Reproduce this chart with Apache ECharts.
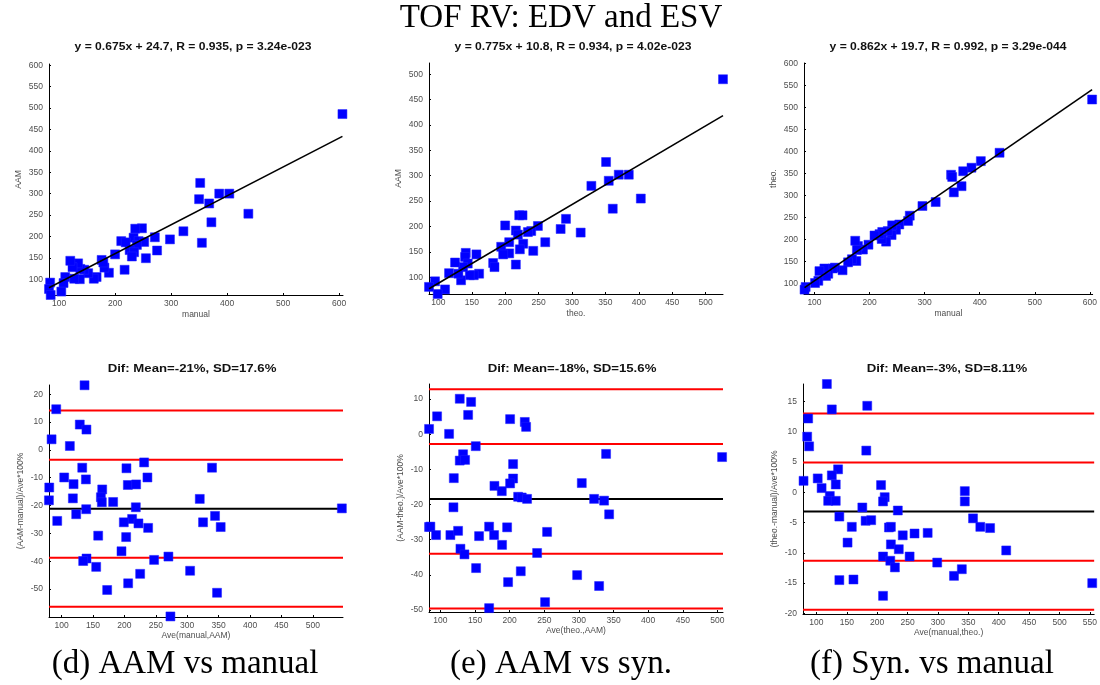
<!DOCTYPE html>
<html>
<head>
<meta charset="utf-8">
<script src="https://cdn.jsdelivr.net/npm/echarts@6/dist/echarts.min.js"></script>
<style>
  html, body { margin: 0; padding: 0; background: #fff; }
  #chart { width: 1100px; height: 685px; }
</style>
</head>
<body>
<div id="chart"></div>
<script>
// ---- Regression scatter data: [x, y] per subject ----
const aamVsManual = [
  [606,486],[352,325],[350,287],[386,300],[404,300],[368,277],[372,233],[438,253],[355,185],[322,212],
  [298,193],[271,198],[275,167],[255,149],[248,219],[236,218],[233,197],[242,189],[252,187],[239,180],
  [226,168],[234,163],[230,153],[211,189],[219,186],[217,122],[200,158],[189,115],[181,127],[176,145],
  [179,139],[167,105],[162,101],[152,114],[145,122],[138,124],[134,137],[124,128],[120,143],[137,100],
  [127,101],[111,105],[108,91],[104,71],[84,92],[82,77],[85,63]
];
const aamVsTheo = [
  [526,490],[351,327],[355,290],[370,302],[385,302],[329,280],[403,255],[361,235],[291,215],[283,195],
  [313,188],[260,169],[242,152],[249,201],[239,191],[234,189],[221,222],[226,222],[216,192],[219,184],
  [227,166],[222,155],[216,125],[200,202],[206,169],[206,147],[194,160],[197,145],[182,128],[184,120],
  [157,145],[161,107],[153,104],[147,104],[141,148],[140,140],[144,127],[137,120],[134,94],[125,129],
  [130,107],[116,108],[110,76],[99,67],[95,92],[86,81]
];
const theoVsManual = [
  [604,518],[436,397],[402,378],[385,363],[370,355],[348,347],[350,342],[367,321],[353,307],[320,285],
  [296,276],[273,254],[270,242],[254,234],[248,222],[241,232],[240,210],[230,195],[233,219],[223,217],
  [222,201],[218,212],[209,209],[198,188],[188,177],[179,185],[174,197],[177,176],[176,151],[168,155],
  [161,148],[151,130],[137,136],[133,134],[125,122],[121,117],[118,134],[109,128],[107,106],[101,101],
  [84,92],[82,86]
];

// ---- Bland-Altman data: [average, difference %] ----
const baAamManual = [
  [136.6,23.2],[91.5,14.6],[129,9.1],[139.6,7.3],[84.1,3.8],[113.2,1.4],[231.4,-4.5],[132.9,-6.4],
  [203.3,-6.6],[339.5,-6.4],[104.2,-9.9],[236.7,-9.9],[138.7,-10.6],[119.1,-12.3],[205.5,-12.6],
  [218.7,-12.4],[80.4,-13.5],[164.7,-14.2],[118,-17.4],[162.6,-17],[164.1,-18.8],[182.1,-18.7],
  [79.9,-18.1],[320,-17.6],[218.2,-20.6],[139.2,-21.3],[546.2,-21],[123.3,-23.1],[93.1,-25.5],
  [344.3,-23.7],[212.3,-24.8],[199.1,-26],[222.4,-26.4],[325.2,-26],[237.8,-28],[353.3,-27.7],
  [158.3,-30.8],[202.8,-31.3],[195.4,-36.4],[139.7,-39],[134.4,-39.9],[270.1,-38.3],[247.3,-39.5],
  [155.1,-42],[304.6,-43.4],[225.1,-44.5],[206,-47.9],[172.6,-50.3],[347.5,-51.3],[273.3,-59.8]
];
const baAamTheo = [
  [127.9,10.1],[144.3,9.2],[95.2,5.1],[140,5.5],[200.6,4.3],[221.8,3.5],[223.7,2.1],[83.6,1.5],
  [112.5,0.1],[151,-3.4],[132.7,-5.7],[339.2,-5.6],[506.7,-6.5],[127.9,-7.5],[135.6,-7.3],[204.9,-8.5],
  [119.3,-12.5],[204.9,-12.6],[178,-14.7],[200.6,-14.0],[304.1,-13.9],[188.6,-16.2],[212.2,-17.8],
  [217.4,-18],[225.1,-18.4],[321.9,-18.4],[336.3,-18.9],[343.6,-22.8],[118.8,-20.8],[83.6,-26.4],
  [85.5,-26.3],[93.7,-28.7],[114.4,-28.7],[125.5,-27.5],[170.3,-26.3],[196.3,-26.5],[254,-27.8],
  [155.8,-29],[177.5,-28.7],[189,-31.5],[128.9,-32.6],[134.7,-34.2],[239.6,-33.8],[151.5,-38.1],
  [216,-39],[297.4,-40.1],[197.7,-42.1],[329.1,-43.2],[251.1,-47.8],[170.3,-49.5]
];
const baTheoManual = [
  [117.3,17.9],[125.4,13.7],[183.7,14.3],[86.5,12.2],[84.9,9.2],[88.1,7.6],[182.1,6.9],[135.7,3.8],
  [125.4,2.8],[102.2,2.3],[78.9,1.9],[108.6,0.7],[131.9,1.3],[206.4,1.2],[344.2,0.2],[122.1,-0.6],
  [212.4,-0.8],[119.4,-1.4],[131.9,-1.4],[209.7,-1.5],[344.2,-1.5],[175.6,-2.5],[234,-3],[137.8,-4],
  [357.7,-4.3],[181,-4.7],[190.2,-4.6],[219.4,-5.8],[222.6,-5.7],[158.3,-5.7],[369.7,-5.7],[385.8,-5.9],
  [261.5,-6.8],[283.1,-6.7],[242.1,-7.1],[151.3,-8.3],[222.6,-8.6],[235.6,-9.4],[412.3,-9.6],
  [209.7,-10.6],[253.4,-10.6],[221.6,-11.3],[298.8,-11.6],[229.2,-12.4],[326.4,-13.8],[339.3,-12.7],
  [137.8,-14.5],[161,-14.4],[209.7,-17.1],[553.8,-15]
];

// ---- Fit and agreement statistics ----
const fitSlope = [0.675, 0.775, 0.862];
const fitIntercept = [24.7, 10.8, 19.7];
const fitTitles = [
  'y = 0.675x + 24.7, R = 0.935, p = 3.24e-023',
  'y = 0.775x + 10.8, R = 0.934, p = 4.02e-023',
  'y = 0.862x + 19.7, R = 0.992, p = 3.29e-044'
];
const difMean = [-21.1, -18.4, -3.18];
const difSD = [17.6, 15.6, 8.11];
const difTitles = [
  'Dif: Mean=-21%, SD=17.6%',
  'Dif: Mean=-18%, SD=15.6%',
  'Dif: Mean=-3%, SD=8.11%'
];

// ---- Axis names and tick labels ----
const xNames = ['manual', 'theo.', 'manual', 'Ave(manual,AAM)', 'Ave(theo.,AAM)', 'Ave(manual,theo.)'];
const yNames = ['AAM', 'AAM', 'theo.', '(AAM-manual)/Ave*100%', '(AAM-theo.)/Ave*100%', '(theo.-manual)/Ave*100%'];
const xTicks = [
  [100,200,300,400,500,600],
  [100,150,200,250,300,350,400,450,500],
  [100,200,300,400,500,600],
  [100,150,200,250,300,350,400,450,500],
  [100,150,200,250,300,350,400,450,500],
  [100,150,200,250,300,350,400,450,500,550]
];
const yTicks = [
  [100,150,200,250,300,350,400,450,500,550,600],
  [100,150,200,250,300,350,400,450,500],
  [100,150,200,250,300,350,400,450,500,550,600],
  [-50,-40,-30,-20,-10,0,10,20],
  [-50,-40,-30,-20,-10,0,10],
  [-20,-15,-10,-5,0,5,10,15]
];
const xLimits = [[82,607],[86,526],[81,605],[80,548],[83.5,508],[78,557]];
const yLimits = [[63,603],[67,522],[76,601],[-60,23.3],[-50.6,14.3],[-20.1,17.9]];

const captions = ['(d) AAM vs manual', '(e) AAM vs syn.', '(f) Syn. vs manual'];
const mainTitle = 'TOF RV: EDV and ESV';

// ---- Layout ----
const grids = [
  { left: 49,  top: 64,  width: 294, height: 231 },
  { left: 429, top: 63,  width: 294, height: 231 },
  { left: 804, top: 63,  width: 294, height: 231 },
  { left: 49,  top: 385, width: 294, height: 232 },
  { left: 429, top: 384, width: 294, height: 228 },
  { left: 803, top: 384, width: 295, height: 230 }
];

const labelFont = { fontFamily: 'Liberation Sans', fontSize: 8.5, color: '#4d4d4d' };

const xAxes = grids.map((g, i) => ({
  type: 'value', gridIndex: i, min: xLimits[i][0], max: xLimits[i][1],
  name: xNames[i], nameLocation: 'middle', nameGap: i < 3 ? 15 : 12,
  nameTextStyle: labelFont,
  axisLine: { show: true, onZero: false, lineStyle: { color: '#000', width: 1 } },
  axisTick: { show: true, inside: true, length: 2, customValues: xTicks[i], lineStyle: { color: '#000' } },
  axisLabel: { customValues: xTicks[i], margin: 4, ...labelFont },
  splitLine: { show: false }
}));
const yAxes = grids.map((g, i) => ({
  type: 'value', gridIndex: i, min: yLimits[i][0], max: yLimits[i][1],
  name: yNames[i], nameLocation: 'middle', nameRotate: 90, nameGap: i < 3 ? 26 : 24,
  nameTextStyle: labelFont,
  axisLine: { show: true, onZero: false, lineStyle: { color: '#000', width: 1 } },
  axisTick: { show: true, inside: true, length: 2, customValues: yTicks[i], lineStyle: { color: '#000' } },
  axisLabel: { customValues: yTicks[i], margin: 6, ...labelFont },
  splitLine: { show: false }
}));

const scatterSets = [aamVsManual, aamVsTheo, theoVsManual, baAamManual, baAamTheo, baTheoManual];
const series = [];
scatterSets.forEach((d, i) => {
  series.push({
    type: 'scatter', xAxisIndex: i, yAxisIndex: i, data: d,
    symbol: 'rect', symbolSize: 9, z: i < 3 ? 2 : 4,
    itemStyle: { color: '#0000ff', opacity: 1, borderColor: '#2020ff', borderWidth: 0.5 }
  });
});

// Least-squares fit lines over the range of each scatter
for (let i = 0; i < 3; i++) {
  const xs = scatterSets[i].map(p => p[0]);
  const x0 = Math.min(...xs), x1 = Math.max(...xs);
  series.push({
    type: 'line', xAxisIndex: i, yAxisIndex: i, showSymbol: false, z: 3,
    data: [[x0, fitSlope[i] * x0 + fitIntercept[i]], [x1, fitSlope[i] * x1 + fitIntercept[i]]],
    lineStyle: { color: '#000', width: 1.6 }
  });
}

// Bland-Altman mean and ±1 / ±2 SD lines
for (let k = 0; k < 3; k++) {
  const i = k + 3;
  const levels = [
    { v: difMean[k], c: '#000000' },
    { v: difMean[k] + difSD[k], c: '#ff0000' },
    { v: difMean[k] - difSD[k], c: '#ff0000' },
    { v: difMean[k] + 2 * difSD[k], c: '#ff0000' },
    { v: difMean[k] - 2 * difSD[k], c: '#ff0000' }
  ];
  levels.forEach(l => {
    series.push({
      type: 'line', xAxisIndex: i, yAxisIndex: i, showSymbol: false, z: 2,
      data: [[xLimits[i][0], l.v], [xLimits[i][1], l.v]],
      lineStyle: { color: l.c, width: 2 }
    });
  });
}

// Titles and captions
const graphic = [];
graphic.push({ type: 'text', x: 561, y: 18, style: {
  text: mainTitle, fill: '#000', font: '33px "Liberation Serif"', align: 'center', verticalAlign: 'middle' } });
const fitTitleX = [193, 573, 948];
const difTitleX = [192, 572, 947];
for (let k = 0; k < 3; k++) {
  graphic.push({ type: 'text', x: fitTitleX[k], y: 47, scaleX: 1.1, style: {
    text: fitTitles[k], fill: '#111', font: 'bold 11px "Liberation Sans"', align: 'center', verticalAlign: 'middle' } });
  graphic.push({ type: 'text', x: difTitleX[k], y: 369, scaleX: 1.2, style: {
    text: difTitles[k], fill: '#111', font: 'bold 11px "Liberation Sans"', align: 'center', verticalAlign: 'middle' } });
}
const captionX = [185, 561, 932];
captions.forEach((c, k) => {
  graphic.push({ type: 'text', x: captionX[k], y: 664, style: {
    text: c, fill: '#000', font: '33px "Liberation Serif"', align: 'center', verticalAlign: 'middle' } });
});

const chart = echarts.init(document.getElementById('chart'), null, { renderer: 'canvas' });
chart.setOption({
  animation: false,
  backgroundColor: '#ffffff',
  grid: grids.map(g => ({ ...g, containLabel: false })),
  xAxis: xAxes,
  yAxis: yAxes,
  series: series,
  graphic: graphic
});
</script>
</body>
</html>
